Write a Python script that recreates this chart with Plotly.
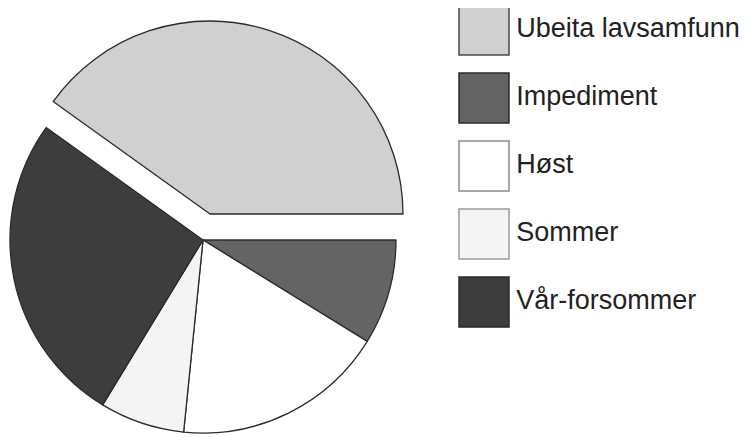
import plotly.graph_objects as go

# ---- data ----
categories = ["Ubeita lavsamfunn", "Impediment", "Høst", "Sommer", "Vår-forsommer"]
shares = [40.1, 8.8, 17.8, 7.1, 26.2]
fill_colors = ["#d0d0d0", "#646464", "#ffffff", "#f4f4f4", "#3d3d3d"]
legend_borders = ["#4a4a4a", "#2a2a2a", "#8c8c8c", "#9a9a9a", "#2a2a2a"]
pulled_category = "Ubeita lavsamfunn"

# ---- layout geometry (pixels, figure coordinates; page adds an 8px body margin) ----
W, H = 742, 429
R = 193                 # pie radius
CX, CY = 195, 232       # pie centre
PULL_DX, PULL_DY = 7, -26   # offset of the exploded slice
START_ANGLE = 90 - 360 * shares[0] / sum(shares)   # first slice ends at 3 o'clock
LEG_X = 476             # legend swatch centre x
LEG_Y0, LEG_STEP = 22, 68
EDGE = "#2b2b2b"
CLEAR = "rgba(0,0,0,0)"


def domain(cx, cy, r):
    return dict(x=[(cx - r) / W, (cx + r) / W],
                y=[(H - (cy + r)) / H, (H - (cy - r)) / H])


base_fill = [CLEAR if c == pulled_category else f for c, f in zip(categories, fill_colors)]
base_line = [CLEAR if c == pulled_category else EDGE for c in categories]
top_fill = [f if c == pulled_category else CLEAR for c, f in zip(categories, fill_colors)]
top_line = [EDGE if c == pulled_category else CLEAR for c in categories]

fig = go.Figure()

# legend drawn as labelled swatches
fig.add_trace(go.Scatter(
    x=[0] * len(categories), y=categories,
    mode="markers+text", text=categories, textposition="middle right",
    marker=dict(symbol="square", size=50, color=fill_colors,
                line=dict(color=legend_borders, width=1.5)),
    textfont=dict(family="Liberation Sans, Arial, sans-serif", size=27, color="#222222"),
    cliponaxis=False, showlegend=False, hoverinfo="skip",
))

common = dict(labels=categories, values=shares, sort=False, direction="clockwise",
              rotation=START_ANGLE, textinfo="none", showlegend=False, hoverinfo="label+percent")

# main pie (all slices except the exploded one)
fig.add_trace(go.Pie(**common, domain=domain(CX, CY, R),
                     marker=dict(colors=base_fill, line=dict(color=base_line, width=1.3))))
# exploded slice
fig.add_trace(go.Pie(**common, domain=domain(CX + PULL_DX, CY + PULL_DY, R),
                     marker=dict(colors=top_fill, line=dict(color=top_line, width=1.3))))

fig.update_layout(
    width=W, height=H, margin=dict(l=0, r=0, t=0, b=0),
    paper_bgcolor="white", plot_bgcolor="white",
    xaxis=dict(visible=False, range=[-LEG_X, W - LEG_X], domain=[0, 1], fixedrange=True),
    yaxis=dict(visible=False, type="category", categoryarray=categories,
               range=[(H - LEG_Y0) / LEG_STEP, -LEG_Y0 / LEG_STEP], domain=[0, 1], fixedrange=True),
)

fig.write_html("out.html")
